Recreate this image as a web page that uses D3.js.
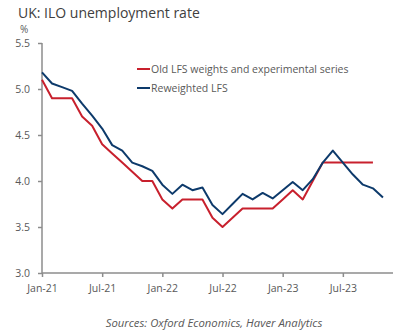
<!DOCTYPE html>
<html>
<head>
<meta charset="utf-8">
<script src="https://cdn.jsdelivr.net/npm/d3@7"></script>
<style>
html,body{margin:0;padding:0;background:#fff;}
svg{display:block;font-family:"Open Sans","Noto Sans",sans-serif;}
</style>
</head>
<body>
<svg id="chart" width="420" height="335"></svg>
<script>
const title = "UK: ILO unemployment rate";
const unitLabel = "%";
const source = "Sources: Oxford Economics, Haver Analytics";
const startMonth = "2021-01";
const seriesNames = ["Old LFS weights and experimental series", "Reweighted LFS"];
const seriesColors = ["#c8202d", "#0d3a6b"];
const oldLFS = [5.1,4.9,4.9,4.9,4.7,4.6,4.4,4.3,4.2,4.1,4.0,4.0,3.8,3.7,3.8,3.8,3.8,3.6,3.5,3.6,3.7,3.7,3.7,3.7,3.8,3.9,3.8,4.0,4.2,4.2,4.2,4.2,4.2,4.2];
const reweighted = [5.18,5.06,5.02,4.98,4.84,4.71,4.57,4.39,4.33,4.2,4.16,4.11,3.96,3.86,3.96,3.9,3.93,3.74,3.64,3.75,3.86,3.8,3.87,3.81,3.9,3.99,3.9,4.02,4.2,4.33,4.2,4.07,3.96,3.92,3.82];
const yTicks = [3.0,3.5,4.0,4.5,5.0,5.5];
const xTickLabels = ["Jan-21","Jul-21","Jan-22","Jul-22","Jan-23","Jul-23"];
const xTickIndex = [0,6,12,18,24,30];

const svg = d3.select("#chart");
const x = d3.scaleLinear().domain([0,35]).range([42,393]);
const y = d3.scaleLinear().domain([3.0,5.5]).range([273,43]);
const grey = "#595959";

svg.append("text").attr("x",18).attr("y",18).attr("font-size",14).attr("fill","#404040").text(title);
svg.append("text").attr("x",20).attr("y",33).attr("font-size",10).attr("fill",grey).text(unitLabel);

const yAxis = d3.axisLeft(y).tickValues(yTicks).tickFormat(d3.format(".1f")).tickSize(4).tickPadding(8);
const gy = svg.append("g").attr("transform","translate(42,0)").call(yAxis);
const xAxis = d3.axisBottom(x).tickValues(xTickIndex).tickFormat((d,i)=>xTickLabels[i]).tickSize(4).tickPadding(8);
const gx = svg.append("g").attr("transform","translate(0,273)").call(xAxis);
[gy,gx].forEach(g=>{
  g.select(".domain").attr("stroke","#8c8c8c").attr("stroke-width",1.5);
  g.selectAll(".tick line").attr("stroke","#8c8c8c").attr("stroke-width",1.5);
  g.selectAll("text").attr("fill",grey).attr("font-family","'Open Sans','Noto Sans',sans-serif");
});
gy.selectAll("text").attr("font-size",10.5);
gx.selectAll("text").attr("font-size",10.5);
gy.select(".domain").attr("d","M0,43V273");
gx.select(".domain").attr("d","M42,0H393");

const line = d3.line().x((d,i)=>x(i)).y(d=>y(d));
[oldLFS, reweighted].forEach((s,k)=>{
  svg.append("path").datum(s).attr("d",line).attr("fill","none")
    .attr("stroke",seriesColors[k]).attr("stroke-width",2).attr("stroke-linejoin","round");
});

seriesNames.forEach((n,k)=>{
  const yy = 69 + k*19;
  svg.append("line").attr("x1",137).attr("x2",150).attr("y1",yy).attr("y2",yy)
    .attr("stroke",seriesColors[k]).attr("stroke-width",2);
  svg.append("text").attr("x",151).attr("y",yy+4).attr("font-size",10.5).attr("fill",grey).text(n);
});

svg.append("text").attr("x",214).attr("y",327).attr("text-anchor","middle").attr("font-size",11.3)
  .attr("font-style","italic").attr("fill",grey).text(source);
</script>
</body>
</html>
